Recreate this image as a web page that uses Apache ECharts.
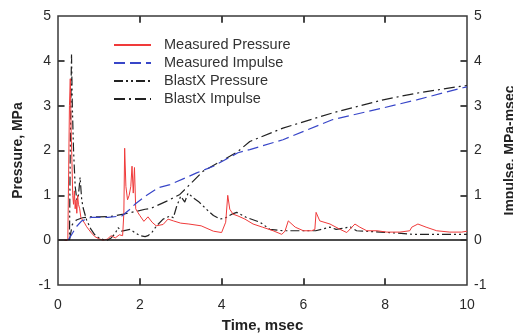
<!DOCTYPE html>
<html>
<head>
<meta charset="utf-8">
<script src="https://cdn.jsdelivr.net/npm/echarts@6/dist/echarts.min.js"></script>
<style>
html,body{margin:0;padding:0;background:#fff;}
#chart{width:513px;height:334px;}
</style>
</head>
<body>
<div id="chart"></div>
<script>
// ---- Data ----
const xTicks = [0, 2, 4, 6, 8, 10];
const yTicks = [-1, 0, 1, 2, 3, 4, 5];
const seriesNames = ['Measured Pressure', 'Measured Impulse', 'BlastX Pressure', 'BlastX Impulse'];

const measuredPressureT = [0, 0.24, 0.26, 0.28, 0.30, 0.32, 0.34, 0.36, 0.38, 0.40, 0.42, 0.44, 0.46, 0.48, 0.50, 0.53, 0.56, 0.60, 0.65, 0.70, 0.80, 0.90, 1.00, 1.10, 1.20, 1.30, 1.40, 1.50, 1.58, 1.61, 1.63, 1.66, 1.70, 1.74, 1.78, 1.81, 1.84, 1.87, 1.90, 1.95, 2.00, 2.10, 2.20, 2.30, 2.40, 2.57, 2.69, 2.82, 3.00, 3.20, 3.50, 3.80, 4.00, 4.10, 4.15, 4.20, 4.28, 4.40, 4.57, 4.77, 5.00, 5.26, 5.47, 5.55, 5.63, 5.80, 6.00, 6.20, 6.28, 6.31, 6.40, 6.65, 6.90, 7.06, 7.26, 7.38, 7.55, 7.80, 8.04, 8.36, 8.60, 8.65, 8.80, 9.00, 9.26, 9.58, 9.87, 10.0];
const measuredPressureV = [0, 0, 1.5, 3.0, 3.6, 2.5, 1.8, 1.0, 0.8, 1.1, 0.7, 0.9, 0.6, 1.0, 0.8, 0.7, 0.5, 0.45, 0.38, 0.3, 0.18, 0.08, 0.03, 0.0, 0.02, 0.1, 0.05, 0.12, 0.1, 0.6, 2.05, 1.2, 0.9, 1.0, 1.2, 1.65, 1.05, 1.62, 0.7, 0.62, 0.55, 0.42, 0.52, 0.4, 0.32, 0.35, 0.47, 0.43, 0.38, 0.36, 0.32, 0.2, 0.17, 0.4, 1.0, 0.69, 0.58, 0.54, 0.47, 0.36, 0.29, 0.21, 0.13, 0.2, 0.43, 0.29, 0.21, 0.21, 0.24, 0.62, 0.43, 0.36, 0.24, 0.17, 0.36, 0.29, 0.21, 0.21, 0.18, 0.18, 0.21, 0.29, 0.36, 0.29, 0.21, 0.18, 0.18, 0.2];

const measuredImpulseT = [0.25, 0.35, 0.45, 0.58, 0.82, 1.22, 1.56, 1.76, 1.88, 2.13, 2.45, 2.74, 3.39, 3.8, 4.4, 4.69, 5.5, 6.72, 7.95, 8.77, 9.9, 10];
const measuredImpulseV = [0, 0.15, 0.3, 0.43, 0.51, 0.51, 0.54, 0.69, 0.8, 0.98, 1.17, 1.24, 1.5, 1.65, 1.95, 2.02, 2.24, 2.69, 2.95, 3.13, 3.4, 3.42];

const blastxPressureT = [0, 0.28, 0.30, 0.33, 0.35, 0.38, 0.42, 0.46, 0.50, 0.54, 0.58, 0.62, 0.70, 0.80, 0.90, 1.00, 1.10, 1.20, 1.30, 1.40, 1.47, 1.55, 1.65, 1.76, 1.88, 2.00, 2.13, 2.20, 2.30, 2.41, 2.57, 2.74, 2.82, 2.90, 3.00, 3.10, 3.18, 3.30, 3.45, 3.63, 3.80, 3.96, 4.10, 4.25, 4.37, 4.60, 4.94, 5.18, 5.50, 6.00, 6.30, 6.65, 6.80, 7.00, 7.14, 7.30, 8.10, 8.68, 9.58, 10.0];
const blastxPressureV = [0, 0, 2.0, 4.15, 3.0, 2.0, 1.2, 0.9, 1.0, 1.4, 0.9, 0.7, 0.45, 0.25, 0.12, 0.05, 0.02, 0.0, 0.05, 0.15, 0.28, 0.2, 0.22, 0.24, 0.17, 0.1, 0.08, 0.1, 0.18, 0.32, 0.47, 0.54, 0.5, 0.75, 0.98, 0.85, 1.05, 0.95, 0.85, 0.69, 0.55, 0.47, 0.5, 0.58, 0.62, 0.51, 0.4, 0.24, 0.21, 0.21, 0.21, 0.29, 0.24, 0.27, 0.3, 0.21, 0.17, 0.13, 0.13, 0.13];

const blastxImpulseT = [0.28, 0.35, 0.45, 0.6, 0.8, 1.0, 1.3, 1.6, 1.9, 2.13, 2.25, 2.66, 2.98, 3.55, 4.2, 4.4, 4.69, 5.5, 6.72, 7.95, 8.77, 9.83, 10];
const blastxImpulseV = [0, 0.35, 0.45, 0.5, 0.52, 0.52, 0.53, 0.58, 0.64, 0.69, 0.7, 0.87, 1.02, 1.54, 1.87, 1.98, 2.2, 2.5, 2.84, 3.13, 3.28, 3.43, 3.45];

function pairs(t, v) { return t.map((x, i) => [x, v[i]]); }

const FONT = "'Liberation Sans', Arial, sans-serif";
const xMin = xTicks[0], xMax = xTicks[xTicks.length - 1];
const yMin = yTicks[0], yMax = yTicks[yTicks.length - 1];

// Frame tick marks, built from the tick arrays in data space (inward pointing)
const tickLenX = 0.16;  // in x units
const tickLenY = 0.15;  // in y units
const tickSegments = [];
xTicks.slice(1, -1).forEach(x => {
  tickSegments.push([{coord: [x, yMin]}, {coord: [x, yMin + tickLenY]}]);
  tickSegments.push([{coord: [x, yMax]}, {coord: [x, yMax - tickLenY]}]);
});
yTicks.slice(1, -1).forEach(y => {
  tickSegments.push([{coord: [xMin, y]}, {coord: [xMin + tickLenX, y]}]);
  tickSegments.push([{coord: [xMax, y]}, {coord: [xMax - tickLenX, y]}]);
});

const chart = echarts.init(document.getElementById('chart'), null, {renderer: 'canvas'});

function yAxisDef(pos, name, gap) {
  return {
    type: 'value', position: pos, min: yMin, max: yMax, interval: 1,
    axisLine: {show: false, onZero: false}, axisTick: {show: false}, splitLine: {show: false},
    name: name, nameLocation: 'middle', nameRotate: 90, nameGap: gap,
    nameTextStyle: {fontFamily: FONT, fontSize: 14, fontWeight: 'bold', color: '#222'},
    axisLabel: {fontFamily: FONT, fontSize: 14, color: '#2a2a2a', margin: 7}
  };
}

const option = {
  animation: false,
  backgroundColor: '#fff',
  grid: {
    left: 58, right: 46, top: 16, bottom: 49, outerBoundsContain: 'axisLabel',
    show: true, borderColor: '#3a3a3a', borderWidth: 1.5, backgroundColor: 'transparent'
  },
  legend: {
    orient: 'vertical', left: 113, top: 37, padding: 0,
    itemWidth: 37, itemHeight: 16, itemGap: 2,
    data: seriesNames,
    itemStyle: {color: 'rgba(0,0,0,0)', borderWidth: 0, opacity: 0},
    textStyle: {fontFamily: FONT, fontSize: 14.5, lineHeight: 16, color: '#333', padding: [0, 0, 0, 8]},
    selectedMode: false
  },
  xAxis: [
    {
      type: 'value', position: 'bottom', min: xMin, max: xMax, interval: 2,
      axisLine: {show: false, onZero: false}, axisTick: {show: false}, splitLine: {show: false},
      name: 'Time, msec', nameLocation: 'middle', nameGap: 33,
      nameTextStyle: {fontFamily: FONT, fontSize: 15, fontWeight: 'bold', color: '#222'},
      axisLabel: {fontFamily: FONT, fontSize: 14, color: '#2a2a2a', margin: 13}
    }
  ],
  yAxis: [
    yAxisDef('left', 'Pressure, MPa', 33),
    yAxisDef('right', 'Impulse, MPa-msec', 36)
  ],
  series: [
    {
      name: seriesNames[0], type: 'line', xAxisIndex: 0, yAxisIndex: 0,
      data: pairs(measuredPressureT, measuredPressureV),
      symbol: 'none', lineStyle: {color: '#f03a3a', width: 1}, itemStyle: {color: '#f03a3a'},
      z: 3,
      markLine: {
        silent: true, symbol: 'none', label: {show: false},
        lineStyle: {color: '#111', type: 'solid', width: 1.5},
        data: [{yAxis: 0}]
      }
    },
    {
      name: seriesNames[1], type: 'line', xAxisIndex: 0, yAxisIndex: 1,
      data: pairs(measuredImpulseT, measuredImpulseV),
      symbol: 'none', lineStyle: {color: '#3846c8', width: 1.2, type: [11, 5]}, itemStyle: {color: '#3846c8'},
      z: 4
    },
    {
      name: seriesNames[2], type: 'line', xAxisIndex: 0, yAxisIndex: 0,
      data: pairs(blastxPressureT, blastxPressureV),
      symbol: 'none', lineStyle: {color: '#222', width: 1.2, type: [9, 3, 2, 3, 2, 3]}, itemStyle: {color: '#222'},
      z: 2,
      markLine: {
        silent: true, symbol: 'none', label: {show: false},
        lineStyle: {color: '#333', type: 'solid', width: 1.8},
        data: tickSegments
      }
    },
    {
      name: seriesNames[3], type: 'line', xAxisIndex: 0, yAxisIndex: 1,
      data: pairs(blastxImpulseT, blastxImpulseV),
      symbol: 'none', lineStyle: {color: '#222', width: 1.2, type: [11, 4, 2, 4]}, itemStyle: {color: '#222'},
      z: 2
    }
  ]
};
chart.setOption(option);
</script>
</body>
</html>
